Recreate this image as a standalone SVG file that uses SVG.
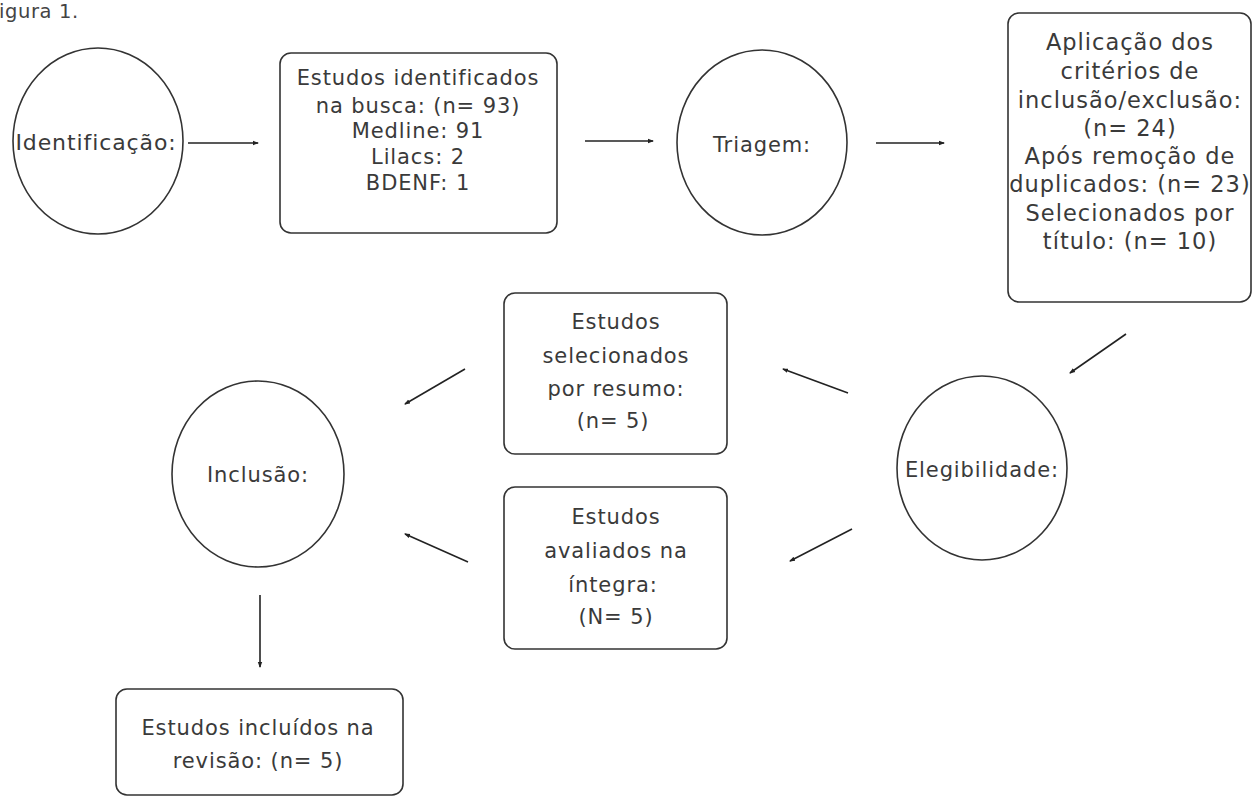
<svg xmlns="http://www.w3.org/2000/svg" width="1259" height="796" viewBox="0 0 1259 796">
<defs>
<marker id="ah" markerUnits="userSpaceOnUse" markerWidth="6" markerHeight="6" refX="5" refY="3" orient="auto">
<path d="M0,0.8 L6,3 L0,5.2 z" fill="#222"/>
</marker>
<style>
.shape{fill:#fff;stroke:#333;stroke-width:1.6}
.t{font-family:"DejaVu Sans","Liberation Sans",sans-serif;font-size:21px;fill:#3a3a3a;text-anchor:middle;letter-spacing:0.9px}
.big{font-size:22.5px;letter-spacing:1px}
.c{stroke:#222;stroke-width:1.6;fill:none;marker-end:url(#ah)}
</style>
</defs>
<rect width="1259" height="796" fill="#fff"/>
<text x="-1" y="18" style="font-family:'DejaVu Sans','Liberation Sans',sans-serif;font-size:19.5px;fill:#444;letter-spacing:0.6px">igura 1.</text>

<g id="connectors">
<line class="c" x1="188" y1="143" x2="258" y2="143"/>
<line class="c" x1="585" y1="141" x2="653" y2="141"/>
<line class="c" x1="876" y1="143" x2="944" y2="143"/>
<line class="c" x1="1126" y1="334" x2="1070" y2="373"/>
<line class="c" x1="848" y1="393" x2="783" y2="369"/>
<line class="c" x1="465" y1="369" x2="405" y2="404"/>
<line class="c" x1="852" y1="529" x2="790" y2="561"/>
<line class="c" x1="468" y1="562" x2="405" y2="534"/>
<line class="c" x1="260" y1="595" x2="260" y2="667"/>
</g>

<g id="identificacao">
<ellipse class="shape" cx="98" cy="141" rx="85" ry="93"/>
<text class="t" x="96" y="150" style="font-size:22px">Identificação:</text>
</g>

<g id="estudos-identificados">
<rect class="shape" x="280" y="53" width="277" height="180" rx="11"/>
<text class="t" x="418" y="85">Estudos identificados</text>
<text class="t" x="418" y="113">na busca: (n= 93)</text>
<text class="t" x="418" y="138">Medline: 91</text>
<text class="t" x="418" y="164">Lilacs: 2</text>
<text class="t" x="418" y="190">BDENF: 1</text>
</g>

<g id="triagem">
<ellipse class="shape" cx="762" cy="142.5" rx="85" ry="92.5"/>
<text class="t" x="762" y="152">Triagem:</text>
</g>

<g id="aplicacao-criterios">
<rect class="shape" x="1008" y="13" width="243" height="289" rx="11"/>
<text class="t big" x="1130" y="50">Aplicação dos</text>
<text class="t big" x="1130" y="79">critérios de</text>
<text class="t big" x="1130" y="108">inclusão/exclusão:</text>
<text class="t big" x="1130" y="136">(n= 24)</text>
<text class="t big" x="1130" y="164">Após remoção de</text>
<text class="t big" x="1130" y="192">duplicados: (n= 23)</text>
<text class="t big" x="1130" y="221">Selecionados por</text>
<text class="t big" x="1130" y="249">título: (n= 10)</text>
</g>

<g id="elegibilidade">
<ellipse class="shape" cx="982" cy="468" rx="85" ry="92"/>
<text class="t" x="982" y="477">Elegibilidade:</text>
</g>

<g id="selecionados-resumo">
<rect class="shape" x="504" y="293" width="223" height="161" rx="11"/>
<text class="t" x="616" y="329">Estudos</text>
<text class="t" x="616" y="363">selecionados</text>
<text class="t" x="616" y="396">por resumo:</text>
<text class="t" x="613" y="428">(n= 5)</text>
</g>

<g id="avaliados-integra">
<rect class="shape" x="504" y="487" width="223" height="162" rx="11"/>
<text class="t" x="616" y="524">Estudos</text>
<text class="t" x="616" y="558">avaliados na</text>
<text class="t" x="613" y="592">íntegra:</text>
<text class="t" x="616" y="624">(N= 5)</text>
</g>

<g id="inclusao">
<ellipse class="shape" cx="258" cy="474" rx="86" ry="93"/>
<text class="t" x="258" y="482">Inclusão:</text>
</g>

<g id="estudos-incluidos">
<rect class="shape" x="116" y="689" width="287" height="106" rx="11"/>
<text class="t" x="258" y="735">Estudos incluídos na</text>
<text class="t" x="258" y="768">revisão: (n= 5)</text>
</g>
</svg>
